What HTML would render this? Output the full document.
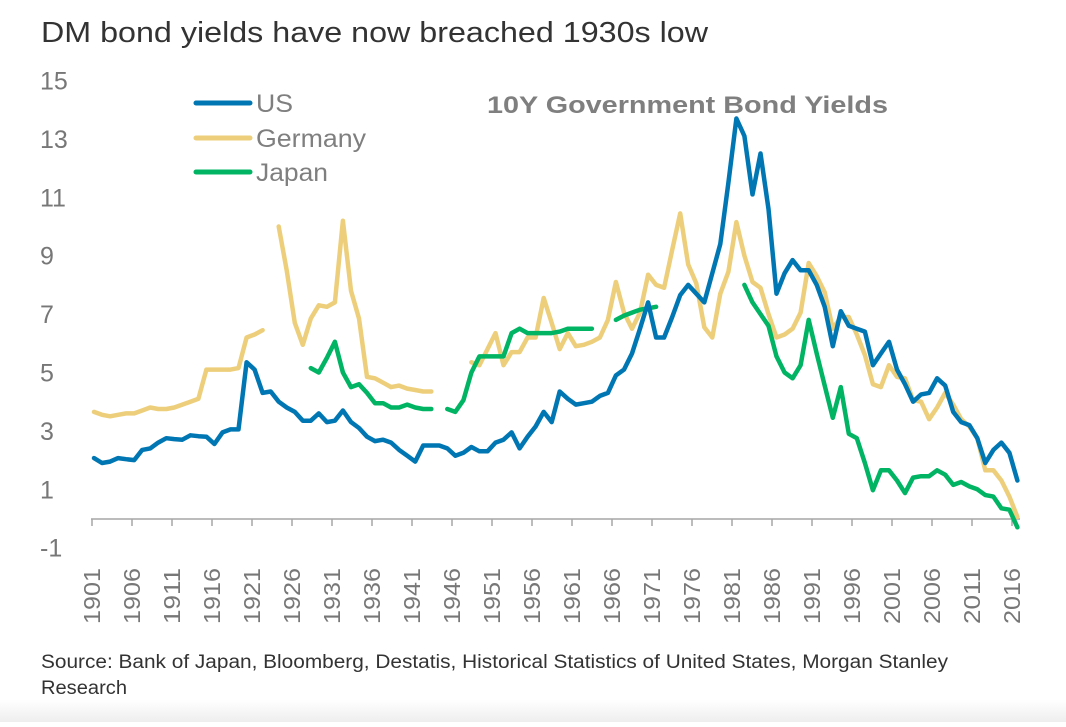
<!DOCTYPE html>
<html><head><meta charset="utf-8"><style>
body{margin:0;background:#fff;width:1066px;height:722px;overflow:hidden;font-family:"Liberation Sans",sans-serif;}
</style></head><body>
<svg id="chart" width="1066" height="722" xmlns="http://www.w3.org/2000/svg">
<defs><linearGradient id="bg" x1="0" y1="0" x2="0" y2="1"><stop offset="0" stop-color="#ffffff"/><stop offset="1" stop-color="#eeeeee"/></linearGradient></defs>
<rect x="0" y="700" width="1066" height="22" fill="url(#bg)"/>
<text x="41" y="42" font-size="29" fill="#333" textLength="667" lengthAdjust="spacingAndGlyphs">DM bond yields have now breached 1930s low</text>
<text x="487" y="113" font-size="24" font-weight="bold" fill="#7f7f7f" textLength="401" lengthAdjust="spacingAndGlyphs">10Y Government Bond Yields</text>
<g id="yaxis"></g>
<g id="xaxis"></g>
<g id="series"></g>
<g>
<g><line x1="196" y1="103" x2="250" y2="103" stroke="#0077B3" stroke-width="5" stroke-linecap="round"/><text x="256" y="112" font-size="25" fill="#7f7f7f" textLength="37" lengthAdjust="spacingAndGlyphs">US</text></g>
<g><line x1="196" y1="138" x2="250" y2="138" stroke="#EDCF7B" stroke-width="5" stroke-linecap="round"/><text x="256" y="147" font-size="25" fill="#7f7f7f" textLength="110" lengthAdjust="spacingAndGlyphs">Germany</text></g>
<g><line x1="196" y1="172" x2="250" y2="172" stroke="#00B464" stroke-width="5" stroke-linecap="round"/><text x="256" y="181" font-size="25" fill="#7f7f7f" textLength="72" lengthAdjust="spacingAndGlyphs">Japan</text></g>
</g>
<text x="41" y="668" font-size="19" fill="#333" textLength="907" lengthAdjust="spacingAndGlyphs">Source: Bank of Japan, Bloomberg, Destatis, Historical Statistics of United States, Morgan Stanley</text>
<text x="41" y="694" font-size="19" fill="#333" textLength="86" lengthAdjust="spacingAndGlyphs">Research</text>
</svg>
<script>
const yTicks=[15,13,11,9,7,5,3,1,-1];
const xTickLabels=[1901,1906,1911,1916,1921,1926,1931,1936,1941,1946,1951,1956,1961,1966,1971,1976,1981,1986,1991,1996,2001,2006,2011,2016];
const usStart=1901;
const usValues=[2.07,1.9,1.95,2.07,2.03,2.0,2.35,2.4,2.6,2.75,2.72,2.7,2.85,2.82,2.8,2.55,2.95,3.05,3.05,5.35,5.1,4.3,4.35,4.0,3.8,3.65,3.35,3.35,3.6,3.3,3.35,3.7,3.3,3.1,2.8,2.65,2.7,2.6,2.35,2.15,1.95,2.5,2.5,2.5,2.4,2.15,2.25,2.45,2.3,2.3,2.6,2.7,2.95,2.4,2.8,3.15,3.65,3.3,4.35,4.1,3.9,3.95,4.0,4.2,4.3,4.9,5.1,5.65,6.5,7.4,6.2,6.2,6.9,7.65,8.0,7.7,7.4,8.4,9.4,11.5,13.7,13.1,11.1,12.5,10.6,7.7,8.4,8.85,8.5,8.5,8.0,7.25,5.9,7.1,6.6,6.5,6.4,5.25,5.65,6.05,5.1,4.6,4.0,4.25,4.3,4.8,4.55,3.65,3.3,3.2,2.75,1.9,2.35,2.6,2.25,1.3];
const deStart=1901;
const deValues=[3.65,3.55,3.5,3.55,3.6,3.6,3.7,3.8,3.75,3.75,3.8,3.9,4.0,4.1,5.1,5.1,5.1,5.1,5.15,6.2,6.3,6.45,null,10.0,8.5,6.7,5.95,6.85,7.3,7.25,7.4,10.2,7.8,6.85,4.85,4.8,4.65,4.5,4.55,4.45,4.4,4.35,4.35,null,null,null,null,5.35,5.25,5.8,6.35,5.25,5.7,5.7,6.2,6.2,7.55,6.7,5.8,6.35,5.9,5.95,6.05,6.2,6.8,8.1,7.05,6.5,7.05,8.35,8.0,7.9,9.2,10.45,8.7,8.05,6.55,6.2,7.7,8.45,10.15,9.0,8.1,7.9,7.0,6.2,6.3,6.5,7.05,8.75,8.3,7.75,6.5,6.9,6.9,6.3,5.6,4.6,4.5,5.25,4.85,4.8,4.05,4.0,3.4,3.8,4.3,3.9,3.4,3.15,2.75,1.65,1.65,1.3,0.75,0.05];
const jpStart=1928;
const jpValues=[5.15,5.0,5.5,6.05,5.0,4.5,4.6,4.3,3.95,3.95,3.8,3.8,3.9,3.8,3.75,3.75,null,3.75,3.65,4.05,5.0,5.55,5.55,5.55,5.55,6.35,6.5,6.35,6.35,6.35,6.35,6.4,6.5,6.5,6.5,6.5,null,null,6.8,6.95,7.05,7.15,7.2,7.25,null,null,null,null,null,null,null,null,null,null,8.0,7.4,7.0,6.6,5.55,5.0,4.8,5.25,6.8,5.65,4.55,3.45,4.5,2.9,2.75,1.9,0.97,1.65,1.65,1.3,0.87,1.4,1.45,1.45,1.65,1.5,1.15,1.25,1.1,1.0,0.8,0.75,0.35,0.3,-0.3];

const NS="http://www.w3.org/2000/svg";
function yScale(v){return 518.5-v*29.2;}
function xScale(yr){return 94+(yr-1901)*8.03;}
function tickX(yr){return 92+(yr-1901)*8.0;}
const yaxis=document.getElementById('yaxis');
yTicks.forEach(t=>{
  const el=document.createElementNS(NS,'text');
  el.setAttribute('x',40);el.setAttribute('y',yScale(t)+9);
  el.setAttribute('font-size',25);el.setAttribute('fill','#777');
  el.textContent=t;
  
  
  yaxis.appendChild(el);
});
const xaxis=document.getElementById('xaxis');
const axisLine=document.createElementNS(NS,'line');
axisLine.setAttribute('x1',91);axisLine.setAttribute('x2',1020);
axisLine.setAttribute('y1',519);axisLine.setAttribute('y2',519);
axisLine.setAttribute('stroke','#a6a6a6');axisLine.setAttribute('stroke-width',1.5);


xaxis.appendChild(axisLine);
xTickLabels.forEach(yr=>{
  const x=tickX(yr);
  const tk=document.createElementNS(NS,'line');
  tk.setAttribute('x1',x);tk.setAttribute('x2',x);tk.setAttribute('y1',519);tk.setAttribute('y2',526);
  tk.setAttribute('stroke','#a6a6a6');tk.setAttribute('stroke-width',1.5);
  
  
  xaxis.appendChild(tk);
  const el=document.createElementNS(NS,'text');
  el.setAttribute('transform','translate('+(x+8)+',624) rotate(-90)');
  el.setAttribute('font-size',23);el.setAttribute('fill','#777');
  el.setAttribute('textLength',56);el.setAttribute('lengthAdjust','spacingAndGlyphs');
  el.textContent=yr;
  
  
  xaxis.appendChild(el);
});
const series=document.getElementById('series');
function drawSeries(start,vals,color,name){
  let segs=[],cur=[];
  vals.forEach((v,i)=>{
    if(v===null){if(cur.length)segs.push(cur);cur=[];}
    else cur.push([xScale(start+i),yScale(v)]);
  });
  if(cur.length)segs.push(cur);
  segs.forEach(s=>{
    const p=document.createElementNS(NS,'path');
    p.setAttribute('d','M'+s.map(q=>q[0].toFixed(1)+','+q[1].toFixed(1)).join('L'));
    p.setAttribute('fill','none');p.setAttribute('stroke',color);
    p.setAttribute('stroke-width',4.5);p.setAttribute('stroke-linecap','round');p.setAttribute('stroke-linejoin','round');
    
    
    series.appendChild(p);
  });
}
drawSeries(deStart,deValues,'#EDCF7B','germany-line');
drawSeries(jpStart,jpValues,'#00B464','japan-line');
drawSeries(usStart,usValues,'#0077B3','us-line');
</script>
</body></html>
